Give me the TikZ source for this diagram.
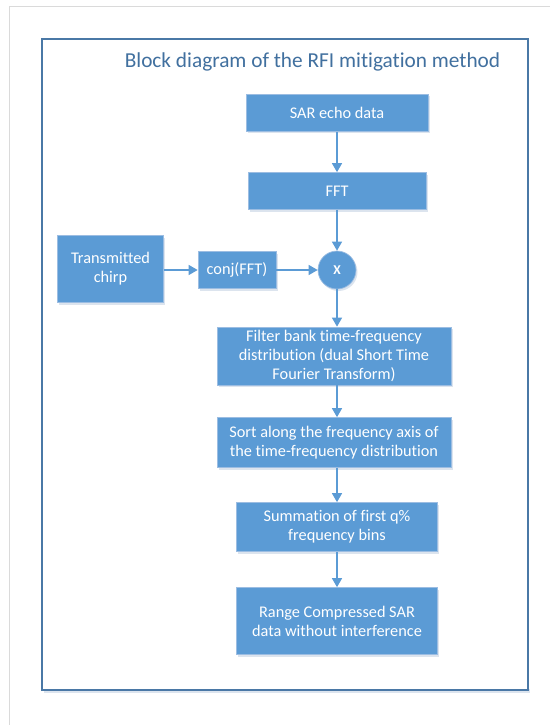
\documentclass[tikz,border=0pt]{standalone}
\usepackage{fontspec}
\setmainfont{Carlito}[Ligatures=NoCommon]
\usetikzlibrary{arrows.meta,calc}
\definecolor{boxblue}{HTML}{5B9BD5}
\definecolor{boxedge}{HTML}{9CBDE2}
\definecolor{shadowc}{HTML}{DCE4EE}
\definecolor{framec}{HTML}{4A78A6}
\definecolor{titlec}{HTML}{41709F}
\definecolor{pagec}{HTML}{DADADA}
\tikzset{
  blockbox/.style={rectangle, fill=boxblue, draw=boxedge, line width=0.7pt,
    inner sep=0pt, align=center, text=white,
    font=\fontsize{16.3}{18.8}\selectfont},
  flowarrow/.style={draw=boxblue, line width=1.4pt,
    -{Triangle[width=10pt,length=9pt]}},
}
\begin{document}
\begin{tikzpicture}[x=1pt,y=-1pt]
\useasboundingbox (0,0) rectangle (550,725);
% page edge
\draw[pagec, line width=1pt] (9,725) -- (9,7) -- (550,7);
% frame shadow
\fill[shadowc] (44,689) rectangle (530,693);
\node[draw=framec, line width=1.3pt, fill=white, minimum width=486pt, minimum height=651pt, inner sep=0pt] (frame) at (285,364.5) {};
\node[text=titlec, font=\fontsize{21.3}{25}\selectfont, anchor=base] (title) at (312.5,67) {Block diagram of the RFI mitigation method};
% shadows for boxes
\foreach \cx/\cy/\w/\h in {337/112.7/182/37, 337/191/178/37, 110.5/269/106/67, 237/270/78/37, 334/356/234/58, 334/442.5/234/50, 337/527/201/49, 337/621/201/67}{
  \fill[shadowc] ($(\cx,\cy)+(-\w/2+1.5,-\h/2+2)$) rectangle ($(\cx,\cy)+(\w/2+1.5,\h/2+2)$);
}
\node[blockbox, minimum width=182pt, minimum height=37pt] (sar) at (337,112.7) {SAR echo data};
\node[blockbox, minimum width=178pt, minimum height=37pt] (fft) at (337,191) {FFT};
\node[blockbox, minimum width=106pt, minimum height=67pt] (chirp) at (110.5,269) {Transmitted\\chirp};
\node[blockbox, minimum width=78pt, minimum height=37pt] (conj) at (237,270) {conj(FFT)};
\fill[shadowc] (338.5,272) circle (19);
\node[circle, fill=boxblue, draw=boxedge, line width=0.7pt, minimum size=38pt, inner sep=0pt, text=white, font=\fontsize{13.5}{15}\selectfont\bfseries] (mult) at (337,270) {X};
\node[blockbox, minimum width=234pt, minimum height=58pt] (filt) at (334,356) {Filter bank time-frequency\\distribution (dual Short Time\\Fourier Transform)};
\node[blockbox, minimum width=234pt, minimum height=50pt] (sort) at (334,442.5) {Sort along the frequency axis of\\the time-frequency distribution};
\node[blockbox, minimum width=201pt, minimum height=49pt] (summ) at (337,527) {Summation of first q\%\\frequency bins};
\node[blockbox, minimum width=201pt, minimum height=67pt] (range) at (337,621) {Range Compressed SAR\\data without interference};
% arrows
\draw[flowarrow] (sar.south) -- (fft.north);
\draw[flowarrow] (fft.south) -- (mult.north);
\draw[flowarrow] (chirp.east |- conj.west) -- (conj.west);
\draw[flowarrow] (conj.east) -- (mult.west);
\draw[flowarrow] (mult.south) -- (mult.south |- filt.north);
\draw[flowarrow] (mult.south |- filt.south) -- (mult.south |- sort.north);
\draw[flowarrow] (mult.south |- sort.south) -- (summ.north);
\draw[flowarrow] (summ.south) -- (range.north);
\end{tikzpicture}
\end{document}
